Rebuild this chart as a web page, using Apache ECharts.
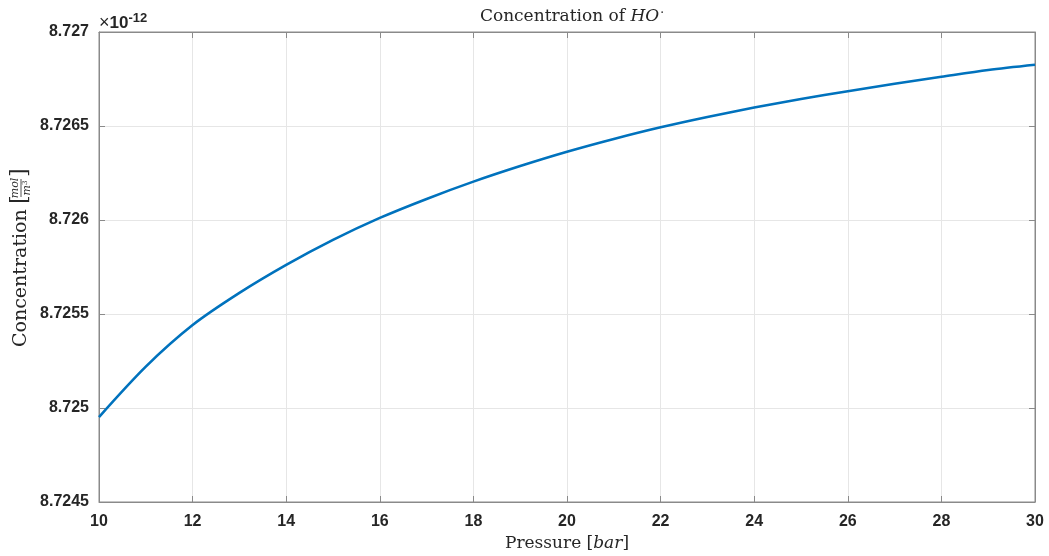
<!DOCTYPE html>
<html>
<head>
<meta charset="utf-8">
<script src="https://cdn.jsdelivr.net/npm/echarts@6/dist/echarts.min.js"></script>
<style>
  html, body { margin: 0; padding: 0; background: #fff; }
  #chart { width: 1049px; height: 556px; }
</style>
</head>
<body>
<div id="chart"></div>
<script>
// Pressure in bar
const pressure = [10, 11, 12, 13, 14, 15, 16, 17, 18, 19, 20, 21, 22, 23, 24, 25, 26, 27, 28, 29, 30];
// HO· concentration, in units of 1e-12 mol/m^3
const concentration = [
  8.724952, 8.725220, 8.725441, 8.725612, 8.725761, 8.725894, 8.726011,
  8.726112, 8.726204, 8.726287, 8.726363, 8.726431, 8.726493, 8.726548,
  8.726598, 8.726644, 8.726685, 8.726725, 8.726762, 8.726798, 8.726826
];
const xTicks = [10, 12, 14, 16, 18, 20, 22, 24, 26, 28, 30];
const yTicks = ['8.7245', '8.725', '8.7255', '8.726', '8.7265', '8.727'];

const AXIS_GRAY = '#8a8a8a';
const GRID_GRAY = '#e6e6e6';
const LINE_BLUE = '#0072BD';
const TEXT = '#262626';
const SERIF = '"DejaVu Serif", "Liberation Serif", serif';
const SANS = '"Liberation Sans", Arial, sans-serif';

const chart = echarts.init(document.getElementById('chart'), null, { renderer: 'canvas' });

const yMin = Number(yTicks[0]);
const yMax = Number(yTicks[yTicks.length - 1]);
const yStep = 0.0005;

function fmtY(v) {
  return String(parseFloat(Number(v).toFixed(4)));
}

const option = {
  animation: false,
  backgroundColor: '#ffffff',
  title: {
    text: '{n|Concentration of }{i|HO}{s|·}',
    left: 567,
    textAlign: 'center',
    top: 3,
    textStyle: {
      fontWeight: 'normal',
      rich: {
        n: { fontFamily: SERIF, fontSize: 17, fontWeight: 'normal', color: TEXT },
        i: { fontFamily: SERIF, fontSize: 17, fontWeight: 'normal', fontStyle: 'italic', color: TEXT },
        s: { fontFamily: SERIF, fontSize: 12, fontWeight: 'normal', color: TEXT, verticalAlign: 'top', padding: [0, 0, 6, 1] }
      }
    }
  },
  grid: {
    left: 99, right: 14, top: 32, bottom: 54,
    outerBoundsMode: 'none',
    containLabel: false,
    show: true, borderColor: AXIS_GRAY, borderWidth: 1, backgroundColor: '#fff'
  },
  xAxis: [
    {
      type: 'value', min: 10, max: 30, interval: 2,
      name: '{n|Pressure [}{i|bar}{n|]}',
      nameLocation: 'middle', nameGap: 32,
      nameTextStyle: {
        rich: {
          n: { fontFamily: SERIF, fontSize: 17, color: TEXT },
          i: { fontFamily: SERIF, fontSize: 17, fontStyle: 'italic', color: TEXT }
        }
      },
      axisLine: { show: true, lineStyle: { color: AXIS_GRAY, width: 1 } },
      axisTick: { show: true, inside: true, length: 6, lineStyle: { color: AXIS_GRAY } },
      axisLabel: {
        margin: 12, fontFamily: SANS, fontSize: 16, fontWeight: 'bold', color: TEXT,
        formatter: v => String(xTicks.find(t => Math.abs(t - v) < 1e-9) ?? v)
      },
      splitLine: { show: true, lineStyle: { color: GRID_GRAY, width: 1 } }
    },
    {
      type: 'value', min: 10, max: 30, interval: 2, position: 'top',
      axisLine: { show: true, lineStyle: { color: AXIS_GRAY, width: 1 } },
      axisTick: { show: true, inside: true, length: 6, lineStyle: { color: AXIS_GRAY } },
      axisLabel: { show: false },
      splitLine: { show: false }
    }
  ],
  yAxis: [
    {
      type: 'value', min: yMin, max: yMax, interval: yStep,
      axisLine: { show: true, lineStyle: { color: AXIS_GRAY, width: 1 } },
      axisTick: { show: true, inside: true, length: 6, lineStyle: { color: AXIS_GRAY } },
      axisLabel: {
        margin: 10, fontFamily: SANS, fontSize: 16, fontWeight: 'bold', color: TEXT,
        formatter: v => fmtY(v)
      },
      splitLine: { show: true, lineStyle: { color: GRID_GRAY, width: 1 } }
    },
    {
      type: 'value', min: yMin, max: yMax, interval: yStep, position: 'right',
      axisLine: { show: true, lineStyle: { color: AXIS_GRAY, width: 1 } },
      axisTick: { show: true, inside: true, length: 6, lineStyle: { color: AXIS_GRAY } },
      axisLabel: { show: false },
      splitLine: { show: false }
    }
  ],
  series: [
    {
      type: 'line',
      xAxisIndex: 0, yAxisIndex: 0,
      data: pressure.map((p, i) => [p, concentration[i]]),
      smooth: 0.3,
      showSymbol: false,
      symbol: 'none',
      lineStyle: { color: LINE_BLUE, width: 2.6 },
      z: 5
    }
  ],
  graphic: [
    // exponent note above the y axis
    {
      type: 'text', left: 99, top: 12,
      style: {
        text: '{x|×}{t|10}{e|-12}',
        rich: {
          x: { fontFamily: SANS, fontSize: 18, fill: TEXT },
          t: { fontFamily: SANS, fontSize: 17, fontWeight: 'bold', fill: TEXT },
          e: { fontFamily: SANS, fontSize: 13, fontWeight: 'bold', fill: TEXT, verticalAlign: 'top', padding: [0, 0, 9, 0] }
        }
      }
    },
    // rotated y-axis title with unit fraction
    {
      type: 'group',
      x: 21, y: 277,
      rotation: Math.PI / 2,
      children: [
        {
          type: 'text', x: -70, y: 0,
          style: { text: 'Concentration', fontFamily: SERIF, fontSize: 19, fill: TEXT, verticalAlign: 'middle', align: 'left' }
        },
        {
          type: 'text', x: 73, y: -1,
          style: { text: '[', fontFamily: SERIF, fontSize: 22, fill: TEXT, verticalAlign: 'middle', align: 'left' }
        },
        {
          type: 'text', x: 89, y: -6,
          style: { text: 'mol', fontFamily: SERIF, fontSize: 11, fontStyle: 'italic', fill: TEXT, verticalAlign: 'middle', align: 'center' }
        },
        {
          type: 'line',
          shape: { x1: 80, y1: 0, x2: 98, y2: 0 },
          style: { stroke: TEXT, lineWidth: 0.8 }
        },
        {
          type: 'text', x: 89, y: 6,
          style: { text: '{m|m}{p|3}', verticalAlign: 'middle', align: 'center',
            rich: {
              m: { fontFamily: SERIF, fontSize: 11, fontStyle: 'italic', fill: TEXT },
              p: { fontFamily: SERIF, fontSize: 7, fill: TEXT, verticalAlign: 'top' }
            }
          }
        },
        {
          type: 'text', x: 100, y: -1,
          style: { text: ']', fontFamily: SERIF, fontSize: 22, fill: TEXT, verticalAlign: 'middle', align: 'left' }
        }
      ]
    }
  ]
};

chart.setOption(option);
</script>
</body>
</html>
